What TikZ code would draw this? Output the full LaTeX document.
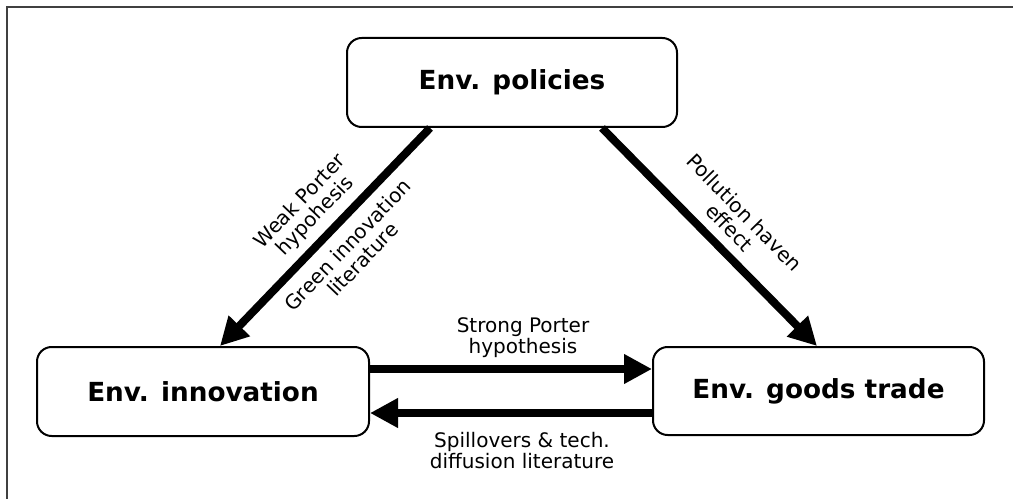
\documentclass[tikz,border=0pt]{standalone}
\usepackage{fontspec}
\setmainfont{DejaVu Sans}
\usetikzlibrary{arrows.meta,calc}
\tikzset{
  box/.style={draw, line width=1.5pt, rounded corners=11pt, inner sep=0pt, fill=white,
    font=\fontsize{19.7}{23}\selectfont\bfseries},
  arr/.style={line width=6pt, -{Triangle[length=21pt,width=21pt]}},
  lbl/.style={align=center, inner sep=0pt, font=\fontsize{15}{15.7}\selectfont}
}
\begin{document}
\begin{tikzpicture}[x=0.75pt,y=-0.75pt]
\useasboundingbox (0,0) rectangle (1013,499);
\draw[line width=1.1pt, black!75] (7,499) -- (7,7) -- (1013,7);
\node[box, minimum width=247.5pt, minimum height=66.75pt] (pol) at (512,82.5) {Env. policies};
\node[box, minimum width=249pt, minimum height=66.75pt] (inn) at (203,391.5) {Env. innovation};
\node[box, minimum width=248.25pt, minimum height=66pt] (trd) at (818.5,391) {Env. goods trade};
\draw[arr] (pol.south -| 430,0) -- (inn.north -| 220,0);
\draw[arr] (pol.south -| 602,0) -- (trd.north -| 817,0);
\draw[arr] (inn.east |- 0,369) -- (trd.west |- 0,369);
\draw[arr] (trd.west |- 0,413) -- (inn.east |- 0,413);
\node[lbl, rotate=46.3] (l1) at (308,209) {Weak Porter\\hypohesis};
\node[lbl, rotate=46.3] (l2) at (355,252) {Green innovation\\literature};
\node[lbl, rotate=-45.7] (l3) at (737,220) {Pollution haven\\effect};
\node[lbl] (l4) at (523,338) {Strong Porter\\hypothesis};
\node[lbl] (l5) at (522,451) {Spillovers \& tech.\\diffusion literature};
\end{tikzpicture}
\end{document}
